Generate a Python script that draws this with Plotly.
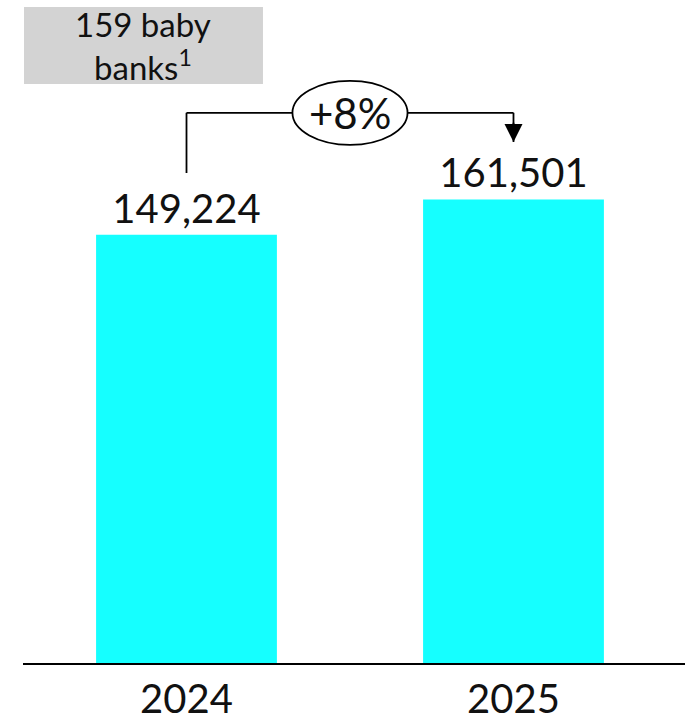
import plotly.graph_objects as go

# ---- data ----
years = ["2024", "2025"]
values = [149224, 161501]
value_labels = ["149,224", "161,501"]
growth_label = "+8%"
box_label = "159 baby<br>banks<sup>1</sup>"

x_pos = [0, 1]
FONT = "Century Gothic, Lato, sans-serif"
CYAN = "#15FFFF"

fig = go.Figure()
fig.add_trace(go.Bar(
    x=x_pos, y=values, width=0.553,
    marker=dict(color=CYAN, line=dict(width=0)),
    text=value_labels, textposition="outside", constraintext="none",
    textfont=dict(family=FONT, size=40, color="#111111"),
    cliponaxis=False, hoverinfo="skip",
))

vmax = max(values)
bracket_top = vmax * 1.187
left_bottom = values[0] * 1.144
arrow_tip = values[1] * 1.124
ell_half = 0.176  # half width of ellipse in x data units

line = dict(color="black", width=1.8)
# left vertical
fig.add_shape(type="line", x0=0, x1=0, y0=left_bottom, y1=bracket_top, line=line)
# horizontal pieces
fig.add_shape(type="line", x0=0, x1=0.5 - ell_half, y0=bracket_top, y1=bracket_top, line=line)
fig.add_shape(type="line", x0=0.5 + ell_half, x1=1, y0=bracket_top, y1=bracket_top, line=line)
# right vertical down to arrow
fig.add_shape(type="line", x0=1, x1=1, y0=arrow_tip, y1=bracket_top, line=line)
# ellipse
fig.add_shape(type="circle", xref="x", yref="y", ysizemode="pixel", yanchor=bracket_top,
              x0=0.5 - ell_half, x1=0.5 + ell_half, y0=-32, y1=32,
              line=line, fillcolor="white")
fig.add_annotation(x=0.5, y=bracket_top, text=growth_label, showarrow=False,
                   xanchor="center", yanchor="middle",
                   font=dict(family=FONT, size=42, color="#111111"))
# arrow head pointing down to 2025
fig.add_annotation(x=1, y=arrow_tip, ax=1, ay=bracket_top, axref="x", ayref="y",
                   text=" ", showarrow=True, arrowhead=2, arrowsize=2.0,
                   arrowwidth=1.8, arrowcolor="black", standoff=0)

# gray box
fig.add_shape(type="rect", xref="paper", yref="paper", x0=0.0015, x1=0.3625,
              y0=0.8733, y1=0.9894, fillcolor="#D3D3D3", line=dict(width=0), layer="below")
fig.add_annotation(xref="paper", yref="paper", x=0.182, y=0.9313, text=box_label,
                   showarrow=False, align="center", xanchor="center", yanchor="middle",
                   font=dict(family=FONT, size=33, color="#111111"))

fig.update_layout(
    width=685, height=721,
    margin=dict(l=23, r=0, t=0, b=58),
    paper_bgcolor="white", plot_bgcolor="white",
    showlegend=False,
    xaxis=dict(range=[-0.5, 1.5245], tickmode="array", tickvals=x_pos, ticktext=years,
               showline=True, linecolor="black", linewidth=2, showgrid=False,
               zeroline=False, ticks="", tickfont=dict(family=FONT, size=40, color="#111111"),
               fixedrange=True),
    yaxis=dict(range=[0, 231000], visible=False, showgrid=False, zeroline=False, fixedrange=True),
)

fig.write_html("out.html", config={"displayModeBar": False},
               post_script="document.body.style.margin='0';document.body.style.overflow='hidden';")
